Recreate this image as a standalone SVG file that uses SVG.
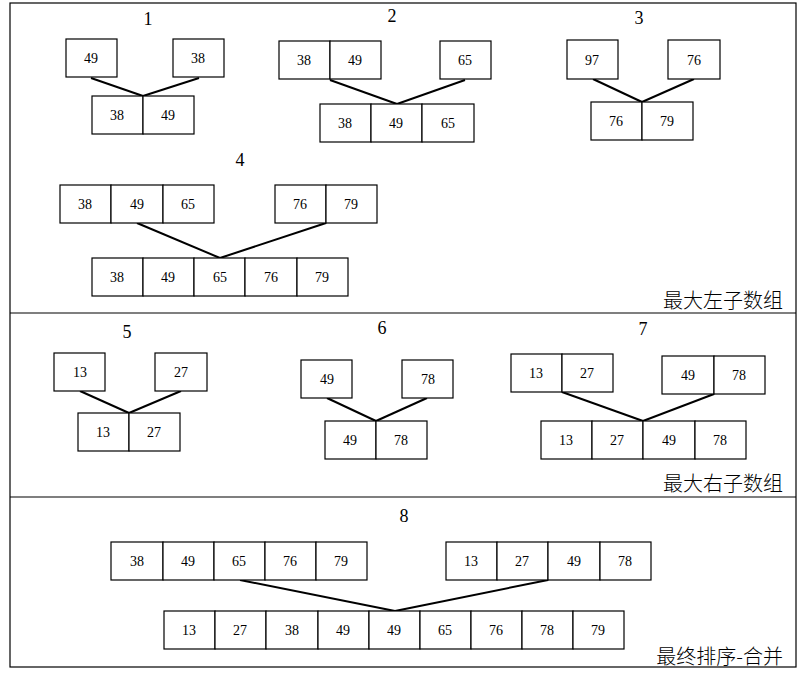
<svg xmlns="http://www.w3.org/2000/svg" width="807" height="675" viewBox="0 0 807 675">
<style>
rect{fill:#fff;stroke:#000;stroke-width:1.2}
.c line{stroke:#000;stroke-width:2}
line.s{stroke:#000;stroke-width:1.2}
text{font-family:"Liberation Serif","Noto Sans CJK SC",serif;font-size:14px;text-anchor:middle;dominant-baseline:central}
.t{font-size:18px}
.l{font-size:20px;text-anchor:end;font-weight:300;font-family:"Noto Sans CJK SC",sans-serif}
</style>
<rect x="10" y="3" width="786" height="664"/>
<line class="s" x1="10" y1="313" x2="796" y2="313"/>
<line class="s" x1="10" y1="497" x2="796" y2="497"/>
<g class="c">
<line x1="91" y1="78" x2="143" y2="96"/><line x1="199" y1="78" x2="143" y2="96"/>
<line x1="330" y1="80" x2="397" y2="104"/><line x1="465" y1="80" x2="397" y2="104"/>
<line x1="593" y1="79" x2="642" y2="102"/><line x1="694" y1="79" x2="642" y2="102"/>
<line x1="137" y1="223" x2="220" y2="258"/><line x1="326" y1="223" x2="220" y2="258"/>
<line x1="80" y1="391" x2="129" y2="413"/><line x1="181" y1="391" x2="129" y2="413"/>
<line x1="327" y1="398" x2="376" y2="421"/><line x1="427" y1="398" x2="376" y2="421"/>
<line x1="562" y1="392" x2="643" y2="421"/><line x1="714" y1="394" x2="643" y2="421"/>
<line x1="240" y1="580" x2="395" y2="611"/><line x1="548" y1="580" x2="395" y2="611"/>
</g>
<g id="p1"><text class="t" x="148" y="19">1</text>
<rect x="66" y="39" width="51" height="38"/><text x="91" y="58">49</text>
<rect x="173" y="39" width="51" height="38"/><text x="198" y="58">38</text>
<rect x="92" y="96" width="51" height="38"/><text x="117" y="115">38</text>
<rect x="143" y="96" width="51" height="38"/><text x="168" y="115">49</text></g>
<g id="p2"><text class="t" x="392" y="16">2</text>
<rect x="279" y="41" width="51" height="38"/><text x="304" y="60">38</text>
<rect x="330" y="41" width="51" height="38"/><text x="355" y="60">49</text>
<rect x="440" y="41" width="51" height="38"/><text x="465" y="60">65</text>
<rect x="320" y="104" width="51" height="38"/><text x="345" y="123">38</text>
<rect x="371" y="104" width="51" height="38"/><text x="396" y="123">49</text>
<rect x="422" y="104" width="52" height="38"/><text x="448" y="123">65</text></g>
<g id="p3"><text class="t" x="639" y="18">3</text>
<rect x="567" y="40" width="51" height="39"/><text x="592" y="60">97</text>
<rect x="668" y="40" width="52" height="39"/><text x="694" y="60">76</text>
<rect x="591" y="102" width="51" height="38"/><text x="616" y="121">76</text>
<rect x="642" y="102" width="51" height="38"/><text x="667" y="121">79</text></g>
<g id="p4"><text class="t" x="240" y="160">4</text>
<rect x="60" y="185" width="51" height="38"/><text x="85" y="204">38</text>
<rect x="111" y="185" width="52" height="38"/><text x="137" y="204">49</text>
<rect x="163" y="185" width="51" height="38"/><text x="188" y="204">65</text>
<rect x="275" y="185" width="51" height="38"/><text x="300" y="204">76</text>
<rect x="326" y="185" width="51" height="38"/><text x="351" y="204">79</text>
<rect x="92" y="258" width="51" height="38"/><text x="117" y="277">38</text>
<rect x="143" y="258" width="51" height="38"/><text x="168" y="277">49</text>
<rect x="194" y="258" width="51" height="38"/><text x="220" y="277">65</text>
<rect x="245" y="258" width="52" height="38"/><text x="271" y="277">76</text>
<rect x="297" y="258" width="51" height="38"/><text x="322" y="277">79</text>
<text class="l" x="783" y="299">最大左子数组</text></g>
<g id="p5"><text class="t" x="127" y="332">5</text>
<rect x="54" y="353" width="51" height="38"/><text x="80" y="372">13</text>
<rect x="155" y="353" width="52" height="38"/><text x="181" y="372">27</text>
<rect x="78" y="413" width="51" height="38"/><text x="103" y="432">13</text>
<rect x="129" y="413" width="51" height="38"/><text x="154" y="432">27</text></g>
<g id="p6"><text class="t" x="382" y="328">6</text>
<rect x="301" y="360" width="51" height="38"/><text x="327" y="379">49</text>
<rect x="402" y="360" width="51" height="38"/><text x="428" y="379">78</text>
<rect x="325" y="421" width="51" height="38"/><text x="350" y="440">49</text>
<rect x="376" y="421" width="51" height="38"/><text x="401" y="440">78</text></g>
<g id="p7"><text class="t" x="643" y="329">7</text>
<rect x="511" y="354" width="51" height="38"/><text x="536" y="373">13</text>
<rect x="562" y="354" width="51" height="38"/><text x="587" y="373">27</text>
<rect x="662" y="356" width="52" height="38"/><text x="688" y="375">49</text>
<rect x="714" y="356" width="51" height="38"/><text x="739" y="375">78</text>
<rect x="541" y="421" width="51" height="38"/><text x="566" y="440">13</text>
<rect x="592" y="421" width="51" height="38"/><text x="617" y="440">27</text>
<rect x="643" y="421" width="52" height="38"/><text x="669" y="440">49</text>
<rect x="695" y="421" width="51" height="38"/><text x="720" y="440">78</text>
<text class="l" x="783" y="482">最大右子数组</text></g>
<g id="p8"><text class="t" x="404" y="516">8</text>
<rect x="111" y="542" width="52" height="38"/><text x="137" y="561">38</text>
<rect x="163" y="542" width="51" height="38"/><text x="188" y="561">49</text>
<rect x="214" y="542" width="51" height="38"/><text x="239" y="561">65</text>
<rect x="265" y="542" width="51" height="38"/><text x="290" y="561">76</text>
<rect x="316" y="542" width="51" height="38"/><text x="341" y="561">79</text>
<rect x="446" y="542" width="51" height="38"/><text x="471" y="561">13</text>
<rect x="497" y="542" width="51" height="38"/><text x="522" y="561">27</text>
<rect x="548" y="542" width="52" height="38"/><text x="574" y="561">49</text>
<rect x="600" y="542" width="51" height="38"/><text x="625" y="561">78</text>
<rect x="164" y="611" width="51" height="38"/><text x="189" y="630">13</text>
<rect x="215" y="611" width="51" height="38"/><text x="240" y="630">27</text>
<rect x="266" y="611" width="52" height="38"/><text x="292" y="630">38</text>
<rect x="318" y="611" width="51" height="38"/><text x="343" y="630">49</text>
<rect x="369" y="611" width="51" height="38"/><text x="394" y="630">49</text>
<rect x="420" y="611" width="51" height="38"/><text x="445" y="630">65</text>
<rect x="471" y="611" width="51" height="38"/><text x="496" y="630">76</text>
<rect x="522" y="611" width="51" height="38"/><text x="547" y="630">78</text>
<rect x="573" y="611" width="51" height="38"/><text x="598" y="630">79</text>
<text class="l" x="783" y="655">最终排序-合并</text></g>
</svg>
